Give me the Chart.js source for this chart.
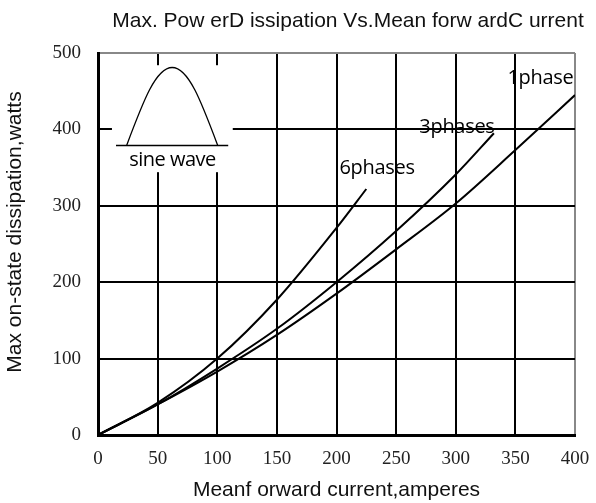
<!DOCTYPE html>
<html>
<head>
<meta charset="utf-8">
<script src="https://cdn.jsdelivr.net/npm/chart.js@4.4.1/dist/chart.umd.min.js"></script>
<style>
  html, body { margin: 0; padding: 0; background: #fff; }
  #wrap { width: 596px; height: 503px; }
</style>
</head>
<body>
<div id="wrap"><canvas id="myChart" width="596" height="503"></canvas></div>
<script>
// data
const phase1X = [0, 50, 100, 150, 200, 250, 300, 350, 400];
const phase1Y = [0, 40, 83, 131, 185, 243, 303, 373, 445];
const phase3X = [0, 50, 100, 150, 200, 250, 300, 332];
const phase3Y = [0, 40, 87, 139, 200, 267, 341, 395];
const phase6X = [0, 50, 100, 150, 200, 225];
const phase6Y = [0, 42, 100, 177, 271, 322];
const xTicks = [0, 50, 100, 150, 200, 250, 300, 350, 400];
const yTicks = [0, 100, 200, 300, 400, 500];
const curveNames = ["1phase", "3phases", "6phases"];

const chartTitle = "Max. Pow erD issipation Vs.Mean forw ardC urrent";
const yTitle = "Max on-state dissipation,watts";

function toPoints(xs, ys) {
  return xs.map((x, i) => ({ x: x, y: ys[i] }));
}

// label anchors (data units)
const curveLabelPos = [
  { x: 371, y: 467 },
  { x: 301, y: 403 },
  { x: 234, y: 349 },
];

// inset drawing, curve labels and titles
const extras = {
  id: "extras",
  beforeDatasetsDraw(chart) {
    const { ctx, scales } = chart;
    const px = (v) => scales.x.getPixelForValue(v);
    const py = (v) => scales.y.getPixelForValue(v);
    ctx.save();
    // white patch behind sine wave icon
    ctx.fillStyle = "#fff";
    ctx.fillRect(px(11.7), py(484), px(113) - px(11.7), py(344) - py(484));

    // half sine
    const x0 = px(24), x1 = px(100.4), base = py(379), top = py(481);
    const q = (x1 - x0) / 2, h = base - top;
    ctx.strokeStyle = "#000";
    ctx.lineWidth = 1.3;
    ctx.beginPath();
    ctx.moveTo(x0, base);
    ctx.bezierCurveTo(x0 + 0.36 * q, base - 0.56 * h, x0 + 0.64 * q, top, x0 + q, top);
    ctx.bezierCurveTo(x0 + 1.36 * q, top, x0 + 1.64 * q, base - 0.56 * h, x1, base);
    ctx.stroke();

    // baseline
    ctx.lineWidth = 1.5;
    ctx.beginPath();
    ctx.moveTo(px(15.1), base);
    ctx.lineTo(px(109.2), base);
    ctx.stroke();

    ctx.fillStyle = "#000";
    ctx.font = "500 20px 'Open Sans'";
    ctx.letterSpacing = "-0.5px";
    ctx.textAlign = "center";
    ctx.textBaseline = "middle";
    ctx.fillText("sine wave", px(62.5), py(359));
    ctx.restore();
  },
  afterDatasetsDraw(chart) {
    const { ctx, scales } = chart;
    ctx.save();
    ctx.fillStyle = "#000";
    ctx.font = "20px 'Open Sans'";
    ctx.letterSpacing = "-0.3px";
    ctx.textAlign = "center";
    ctx.textBaseline = "middle";
    curveNames.forEach((name, i) => {
      ctx.fillText(
        name,
        scales.x.getPixelForValue(curveLabelPos[i].x),
        scales.y.getPixelForValue(curveLabelPos[i].y)
      );
    });
    ctx.letterSpacing = "0px";
    ctx.font = "21px 'Liberation Sans'";
    ctx.fillStyle = "#111";
    ctx.textBaseline = "alphabetic";
    ctx.fillText(chartTitle, 348, 27);

    // y axis title
    ctx.translate(15, 232);
    ctx.rotate(-Math.PI / 2);
    ctx.textBaseline = "middle";
    ctx.fillText(yTitle, 0, 0);
    ctx.restore();
  },
};

const lineStyle = {
  borderColor: "#000",
  borderWidth: 2,
  pointRadius: 0,
  fill: false,
  cubicInterpolationMode: "monotone",
};

const ctx = document.getElementById("myChart").getContext("2d");
const myChart = new Chart(ctx, {
  type: "line",
  data: {
    datasets: [
      { label: curveNames[0], data: toPoints(phase1X, phase1Y), ...lineStyle },
      { label: curveNames[1], data: toPoints(phase3X, phase3Y), ...lineStyle },
      { label: curveNames[2], data: toPoints(phase6X, phase6Y), ...lineStyle },
    ],
  },
  options: {
    responsive: false,
    animation: false,
    layout: {
      padding: { top: 53, right: 21, left: 0, bottom: 0 },
    },
    plugins: {
      legend: { display: false },
      title: { display: false },
      tooltip: { enabled: false },
    },
    scales: {
      x: {
        type: "linear",
        min: 0,
        max: 400,
        afterBuildTicks: (scale) => {
          scale.ticks = xTicks.map((v) => ({ value: v }));
        },
        afterFit: (scale) => {
          scale.height = 68;
          scale.paddingLeft = 0;
          scale.paddingRight = 0;
        },
        grid: {
          drawTicks: false,
          color: (c) => (c.tick && c.tick.value === 400 ? "#888" : "#000"),
          lineWidth: 2,
        },
        border: { color: "#000", width: 3 },
        ticks: {
          padding: 13,
          color: "#222",
          font: { family: "'Liberation Serif'", size: 19 },
          maxRotation: 0,
        },
        title: {
          display: true,
          text: "Meanf orward current,amperes",
          color: "#111",
          font: { family: "'Liberation Sans'", size: 21 },
          padding: { top: 0, bottom: 0 },
        },
      },
      y: {
        type: "linear",
        min: 0,
        max: 500,
        afterBuildTicks: (scale) => {
          scale.ticks = yTicks.map((v) => ({ value: v }));
        },
        afterFit: (scale) => {
          scale.width = 98;
          scale.paddingTop = 0;
          scale.paddingBottom = 0;
        },
        grid: {
          drawTicks: false,
          color: (c) => (c.tick && c.tick.value === 500 ? "#888" : "#000"),
          lineWidth: 2,
        },
        border: { color: "#000", width: 3 },
        ticks: {
          padding: 17,
          color: "#222",
          font: { family: "'Liberation Serif'", size: 19 },
        },
        title: { display: false },
      },
    },
  },
  plugins: [extras],
});
</script>
</body>
</html>
